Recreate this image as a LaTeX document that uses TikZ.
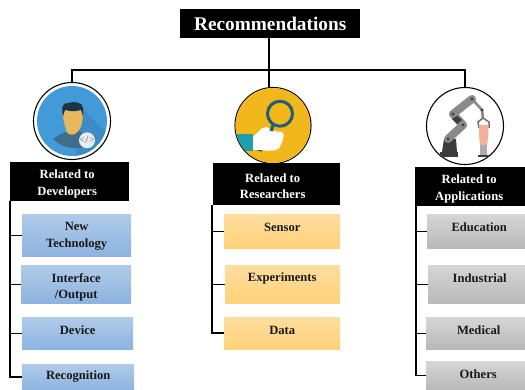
\documentclass[tikz,border=0pt]{standalone}
\usepackage{fontspec}
\setmainfont{Liberation Serif}
\usetikzlibrary{calc}
\definecolor{blueT}{HTML}{B0CBE9}\definecolor{blueB}{HTML}{8DB3E0}
\definecolor{yelT}{HTML}{FEDD9F}\definecolor{yelB}{HTML}{FFD27A}
\definecolor{grayT}{HTML}{D6D6D6}\definecolor{grayB}{HTML}{B8B8B8}
\definecolor{iconblue}{HTML}{429BD8}\definecolor{iconshade}{HTML}{3C8CC4}\definecolor{iconyel}{HTML}{F2B71B}
\definecolor{skin}{HTML}{E8B95C}\definecolor{hair}{HTML}{1C3448}\definecolor{shirt}{HTML}{3F6E8C}
\definecolor{teal}{HTML}{1F5F7A}\definecolor{cuff}{HTML}{1E9FB0}\definecolor{armg}{HTML}{8A8A8A}\definecolor{armd}{HTML}{3C3C3C}\definecolor{pink}{HTML}{F0B09A}
\tikzset{
 x=1pt,y=-1pt,
 txt/.style={font=\bfseries\fontsize{12.6}{16.8}\selectfont,align=center,inner sep=0pt},
 hdr/.style={fill=black,inner sep=0pt,anchor=north west},
 hdrtxt/.style={txt,text=white},
 ttl/.style={fill=black,text=white,font=\bfseries\fontsize{19.3}{22}\selectfont,align=center,inner sep=0pt,anchor=north west},
 item/.style={inner sep=0pt,anchor=north west},
 bluebox/.style={item,top color=blueT,bottom color=blueB},
 yelbox/.style={item,top color=yelT,bottom color=yelB},
 graybox/.style={item,top color=grayT,bottom color=grayB},
 conn/.style={draw=black,line width=1.5pt},
 stub/.style={draw=black,line width=1.2pt},
 ring/.style={circle,draw=black,line width=1.1pt,fill=white,inner sep=0pt,minimum size=#1},
}
\newcommand{\bx}[8]{% name style x y w h text (dx,dy)
 \node[#2,minimum width=#5pt,minimum height=#6pt] (#1) at (#3,#4) {};
 \node[txt,text=black!90] (#1t) at ($(#1.north)+#8$) {#7};
}
\newcommand{\hd}[7]{% name x y w h text offset
 \node[hdr,minimum width=#4pt,minimum height=#5pt] (#1) at (#2,#3) {};
 \node[hdrtxt] (#1t) at ($(#1.center)+#7$) {#6};
}
\begin{document}
\begin{tikzpicture}
\useasboundingbox (0,0) rectangle (525,390);
\fill[white] (0,0) rectangle (525,390);
% title
\node[ttl,minimum width=180pt,minimum height=29pt] (title) at (180,9) {Recommendations};
% icon rings
\node[ring=77pt] (c1) at (72,121) {};
\node[ring=76pt] (c2) at (273,125.5) {};
\node[ring=77pt] (c3) at (465,126) {};
% connectors from title
\coordinate (bus) at (269,70);
\draw[conn] (title.south -| bus) -- (bus);
\draw[conn] (c1.north) -- (c1.north |- bus) -- (c3.north |- bus) -- (c3.north);
\draw[conn] (bus) -- (bus |- c2.north);
% headers
\hd{h1}{10}{162}{119}{39}{Related to\\Developers}{(-2.5,2)}
\hd{h2}{213}{163}{127}{42}{Related to\\Researchers}{(-4,2)}
\hd{h3}{415}{167}{110}{39}{Related to\\Applications}{(-1,2)}
% boxes col1
\bx{a}{bluebox}{22}{214}{109}{42}{New\\Technology}{(0,22.5)}
\bx{b}{bluebox}{21}{265}{110}{38}{Interface\\/Output}{(0,22.5)}
\bx{cc}{bluebox}{22}{317}{111}{32}{Device}{(0,13.5)}
\bx{d}{bluebox}{22}{364}{112}{26}{Recognition}{(0,13)}
% col2
\bx{e}{yelbox}{224}{214}{116}{34}{Sensor}{(0,13.5)}
\bx{f}{yelbox}{225}{265}{115}{38}{Experiments}{(-0.5,13.5)}
\bx{g}{yelbox}{224}{317}{116}{32}{Data}{(0,13.5)}
% col3
\bx{i}{graybox}{427}{214}{98}{34}{Education}{(3,13.5)}
\bx{j}{graybox}{428}{265}{97}{38}{Industrial}{(3,13.5)}
\bx{k}{graybox}{426}{317}{99}{32}{Medical}{(3,13.5)}
\bx{l}{graybox}{426}{361}{99}{29}{Others}{(2.5,13.5)}
% trunks
\coordinate (t1) at (10,201);\coordinate (t2) at (212,205);\coordinate (t3) at (416,206);
\draw[conn] (t1) -- (t1 |- d.west) -- (d.west);
\draw[stub] (t1 |- a.west) -- (a.west);
\draw[stub] (t1 |- b.west) -- (b.west);
\draw[stub] (t1 |- cc.west) -- (cc.west);
\draw[conn] (t2) -- (t2 |- g.west) -- (g.west);
\draw[stub] (t2 |- e.west) -- (e.west);
\draw[stub] (t2 |- f.west) -- (f.west);
\draw[conn] (t3) -- (t3 |- l.west) -- (l.west);
\draw[stub] (t3 |- i.west) -- (i.west);
\draw[stub] (t3 |- j.west) -- (j.west);
\draw[stub] (t3 |- k.west) -- (k.west);
% icon 1: developer
\fill[iconblue] (72,121) circle (35);
\begin{scope}
\clip (72,121) circle (35);
\fill[iconshade] (82,108) -- (112,138) -- (100,165) -- (76,165) -- (76,130) -- cycle;
\fill[shirt] (53,139) .. controls (58,135) and (63,133) .. (68,131) -- (78,131) .. controls (84,133) and (90,136) .. (93,140) -- (85,147) .. controls (76,150) and (62,148) .. cycle;
\end{scope}
\fill[skin] (66,120) -- (66,131) .. controls (68,136) and (76,136) .. (78,131) -- (78,120) -- cycle;
\fill[skin] (63.5,108) .. controls (62,124) and (66,133) .. (73,133) .. controls (80,133) and (84,124) .. (82.5,108) -- cycle;
\fill[hair] (63,116) .. controls (61,106) and (63,103) .. (68,103) .. controls (74,101) and (83,102) .. (83,108) -- (83,116) -- (81,110) .. controls (75,112) and (69,111) .. (65,110) -- cycle;
\fill[white!92!black] (87,140.3) circle (8);
\node[font=\fontsize{6.5}{6.5}\selectfont\sffamily\bfseries,text=shirt,inner sep=0pt] (code) at (87,140.3) {</>};
% icon 2: magnifier and hand
\begin{scope}
\clip (273,125.5) circle (37.5);
\fill[iconyel] (273,125.5) circle (38);
\fill[cuff] (230,134) rectangle (253,151);
\draw[teal,line width=1.5pt] (255,149) -- (262,151);
\fill[white] (253,137) -- (258,132) .. controls (261,129) and (263,127) .. (266,127) .. controls (269,127) and (271,130) .. (273,131) -- (281,132) .. controls (284,132) and (284,137) .. (283,138) .. controls (283,141) and (282,143) .. (281,144) .. controls (281,147) and (279,148) .. (278,149) .. controls (276,151) and (268,151) .. (260,150) -- (253,150) -- cycle;
\draw[teal,line width=3.2pt] (273.5,124) -- (271,131);
\end{scope}
\draw[teal,line width=3pt] (280,113.7) circle (12.5);
% icon 3: robot arm
\fill[armd] (442,152) -- (444,139) -- (456,139) -- (457,152) -- cycle;
\fill[armd] (440,152) rectangle (458,157);
\draw[armg,line width=8pt,line cap=round] (448,139) -- (463,125);
\draw[armg,line width=8pt,line cap=round] (463,125) -- (453,114);
\draw[armg,line width=8pt,line cap=round] (453,114) -- (472,99);
\fill[armd] (452,119) -- (457,116) -- (462,120) -- (457,124) -- cycle;
\draw[armg,line width=2.6pt] (472,99) -- (482,110) -- (483,119);
\fill[armd] (448,139) circle (1.6) (463,125) circle (1.6) (453,114) circle (1.6) (472,99) circle (1.6) (482,110) circle (1.6);
\draw[armg!80!black,line width=1.5pt] (479,128) -- (478,122) -- (483,118) -- (489,122) -- (489,128);
\fill[pink] (479,125) -- (488,125) -- (488.5,135) -- (487,145) -- (480,145) -- (479,135) -- cycle;
\fill[armg!70] (479.5,145) rectangle (487,155);
\fill[armd] (478,155) rectangle (489,157);
\end{tikzpicture}
\end{document}
